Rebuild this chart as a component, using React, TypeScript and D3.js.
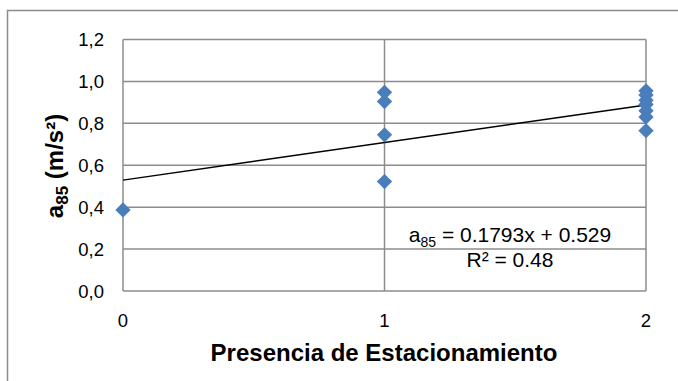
import React from "react";
import * as d3 from "d3";

const xValues = [0, 1, 1, 1, 1, 2, 2, 2, 2, 2, 2, 2];
const yValues = [0.387, 0.948, 0.904, 0.745, 0.522, 0.955, 0.935, 0.91, 0.89, 0.86, 0.83, 0.765];
const yTicks = [0, 0.2, 0.4, 0.6, 0.8, 1.0, 1.2];
const xTicks = [0, 1, 2];
const slope = 0.1793;
const intercept = 0.529;
const rSquared = "0.48";

export default function App() {
  const W = 678, H = 381;
  const x = d3.scaleLinear().domain([0, 2]).range([123, 646]);
  const y = d3.scaleLinear().domain([0, 1.2]).range([291, 39.5]);
  const fmt = (v: number) => v.toFixed(1).replace(".", ",");
  const diamond = d3.symbol().type(d3.symbolDiamond2 || d3.symbolDiamond).size(150)();
  const line = d3.line<number>().x((d) => x(d)).y((d) => y(intercept + slope * d));
  const font = "Liberation Sans, Arial, sans-serif";
  return (
    <svg width={W} height={H} style={{ position: "absolute", left: 0, top: 0 }} fontFamily={font}>
      <rect x={0} y={0} width={W} height={H} fill="#fff" />
      <rect x={7.5} y={10.5} width={W + 10} height={H + 10} fill="#fff" stroke="#8c8c8c" strokeWidth={1.5} />
      {yTicks.map((t) => (
        <line key={"gy" + t} x1={x(0)} x2={x(2)} y1={y(t)} y2={y(t)} stroke="#8c8c8c" strokeWidth={1.5} />
      ))}
      {xTicks.map((t) => (
        <line key={"gx" + t} x1={x(t)} x2={x(t)} y1={y(0)} y2={y(1.2)} stroke="#8c8c8c" strokeWidth={1.5} />
      ))}
      {yTicks.map((t) => (
        <text key={"ty" + t} x={104} y={y(t)} dy="0.36em" textAnchor="end" fontSize={18.5} fill="#000">
          {fmt(t)}
        </text>
      ))}
      {xTicks.map((t) => (
        <text key={"tx" + t} x={x(t)} y={y(0) + 36} textAnchor="middle" fontSize={18.5} fill="#000">
          {t}
        </text>
      ))}
      <path d={line([0, 2]) || ""} stroke="#000" strokeWidth={1.5} fill="none" />
      {xValues.map((xv, i) => (
        <path key={"p" + i} d={diamond || ""} transform={`translate(${x(xv)},${y(yValues[i])})`} fill="#4a7ebb" />
      ))}
      <text x={510} y={242} textAnchor="middle" fontSize={21} fill="#000">
        a<tspan fontSize={14} dy={5}>85</tspan>
        <tspan dy={-5}> = {slope}x + {intercept}</tspan>
      </text>
      <text x={510} y={267} textAnchor="middle" fontSize={21} fill="#000">
        R² = {rSquared}
      </text>
      <text x={384} y={361} textAnchor="middle" fontSize={24} fontWeight="bold" fill="#000">
        Presencia de Estacionamiento
      </text>
      <text transform={`translate(63,166) rotate(-90)`} textAnchor="middle" fontSize={24} fontWeight="bold" fill="#000">
        a<tspan fontSize={17} dy={5}>85</tspan>
        <tspan dy={-5}> (m/s²)</tspan>
      </text>
    </svg>
  );
}
